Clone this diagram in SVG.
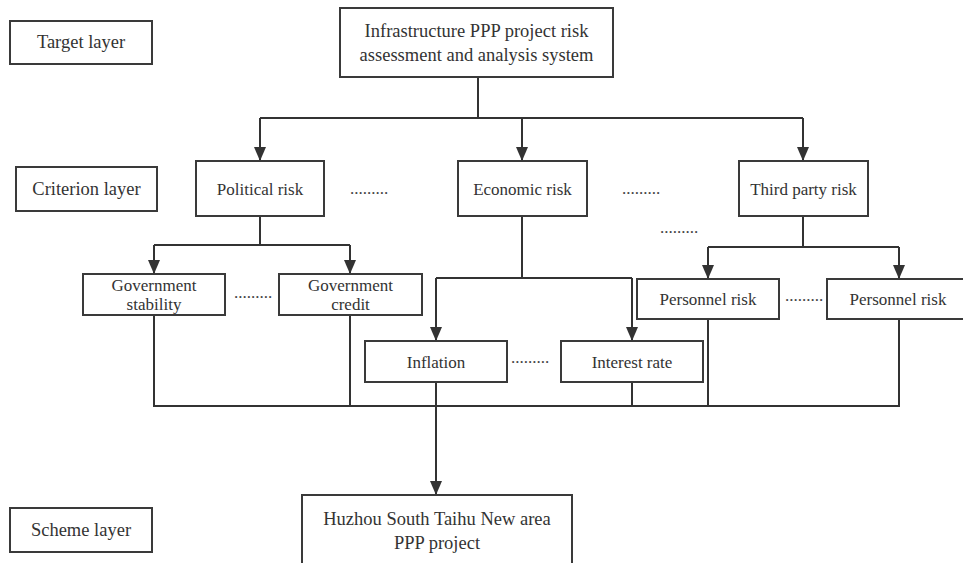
<svg xmlns="http://www.w3.org/2000/svg" width="963" height="563" viewBox="0 0 963 563">
<defs>
<style>
.box{fill:#fff;stroke:#3a3a3a;stroke-width:2}
.t{font-family:"Liberation Serif","Times New Roman",serif;font-size:17px;fill:#333;text-anchor:middle}
.big{font-size:18.5px}
.dots{font-family:"Liberation Serif",serif;font-size:17px;fill:#444;text-anchor:middle}
.ln{fill:none;stroke:#333;stroke-width:2}
</style>
<marker id="arr" markerUnits="userSpaceOnUse" markerWidth="12" markerHeight="14" viewBox="0 0 12 14" refX="6" refY="14" orient="auto-start-reverse">
<path d="M0,0 L12,0 L6,14 Z" fill="#333" transform="rotate(0)"/>
</marker>
<marker id="arrd" markerUnits="userSpaceOnUse" markerWidth="12" markerHeight="14" viewBox="0 0 12 14" refX="6" refY="13" orient="0">
<path d="M0,0 L12,0 L6,14 Z" fill="#333"/>
</marker>
</defs>
<rect width="963" height="563" fill="#fff"/>

<g id="connectors">
<path class="ln" d="M478,77 V118 M260,118 H803"/>
<path class="ln" d="M260,118 V160" marker-end="url(#arrd)"/>
<path class="ln" d="M522,118 V160" marker-end="url(#arrd)"/>
<path class="ln" d="M803,118 V160" marker-end="url(#arrd)"/>
<path class="ln" d="M260,216 V245 M154,245 H350"/>
<path class="ln" d="M154,245 V273" marker-end="url(#arrd)"/>
<path class="ln" d="M350,245 V273" marker-end="url(#arrd)"/>
<path class="ln" d="M522,216 V278 M436,278 H632"/>
<path class="ln" d="M436,278 V340" marker-end="url(#arrd)"/>
<path class="ln" d="M632,278 V340" marker-end="url(#arrd)"/>
<path class="ln" d="M803,216 V247 M708,247 H899"/>
<path class="ln" d="M708,247 V278" marker-end="url(#arrd)"/>
<path class="ln" d="M899,247 V278" marker-end="url(#arrd)"/>
<path class="ln" d="M154,315 V406 H899 V319 M350,315 V406 M436,382 V406 M632,382 V406 M708,319 V406"/>
<path class="ln" d="M436,406 V494" marker-end="url(#arrd)"/>
</g>

<g id="target-layer"><rect class="box" x="10" y="21" width="142" height="43"/><text class="t big" x="81" y="48">Target layer</text></g>
<g id="criterion-layer"><rect class="box" x="16" y="167" width="141" height="44"/><text class="t big" x="86.5" y="195">Criterion layer</text></g>
<g id="scheme-layer"><rect class="box" x="10" y="508" width="142" height="44"/><text class="t big" x="81" y="536">Scheme layer</text></g>

<g id="top"><rect class="box" x="340" y="8" width="273" height="69"/>
<text class="t big" x="476.5" y="37">Infrastructure PPP project risk</text>
<text class="t big" x="476.5" y="61">assessment and analysis system</text></g>

<g id="political"><rect class="box" x="196" y="161" width="128" height="55"/><text class="t" x="260" y="195">Political risk</text></g>
<g id="economic"><rect class="box" x="458" y="161" width="129" height="55"/><text class="t" x="522.5" y="195">Economic risk</text></g>
<g id="third-party"><rect class="box" x="739" y="161" width="129" height="55"/><text class="t" x="803.5" y="195">Third party risk</text></g>

<g id="gov-stability"><rect class="box" x="83" y="274" width="142" height="41"/>
<text class="t" x="154" y="291">Government</text><text class="t" x="154" y="310">stability</text></g>
<g id="gov-credit"><rect class="box" x="279" y="274" width="143" height="41"/>
<text class="t" x="350.5" y="291">Government</text><text class="t" x="350.5" y="310">credit</text></g>

<g id="inflation"><rect class="box" x="365" y="341" width="142" height="41"/><text class="t" x="436" y="368">Inflation</text></g>
<g id="interest"><rect class="box" x="561" y="341" width="142" height="41"/><text class="t" x="632" y="368">Interest rate</text></g>

<g id="personnel-1"><rect class="box" x="637" y="279" width="142" height="40"/><text class="t" x="708" y="305">Personnel risk</text></g>
<g id="personnel-2"><rect class="box" x="827" y="279" width="142" height="40"/><text class="t" x="898" y="305">Personnel risk</text></g>

<g id="scheme"><rect class="box" x="302" y="495" width="270" height="80"/>
<text class="t big" x="437" y="525">Huzhou South Taihu New area</text>
<text class="t big" x="437" y="549">PPP project</text></g>

<g id="ellipses">
<text class="dots" x="369" y="194">.........</text>
<text class="dots" x="641" y="194">.........</text>
<text class="dots" x="679" y="233">.........</text>
<text class="dots" x="253" y="298">.........</text>
<text class="dots" x="530" y="363">.........</text>
<text class="dots" x="804" y="301">.........</text>
</g>
</svg>
